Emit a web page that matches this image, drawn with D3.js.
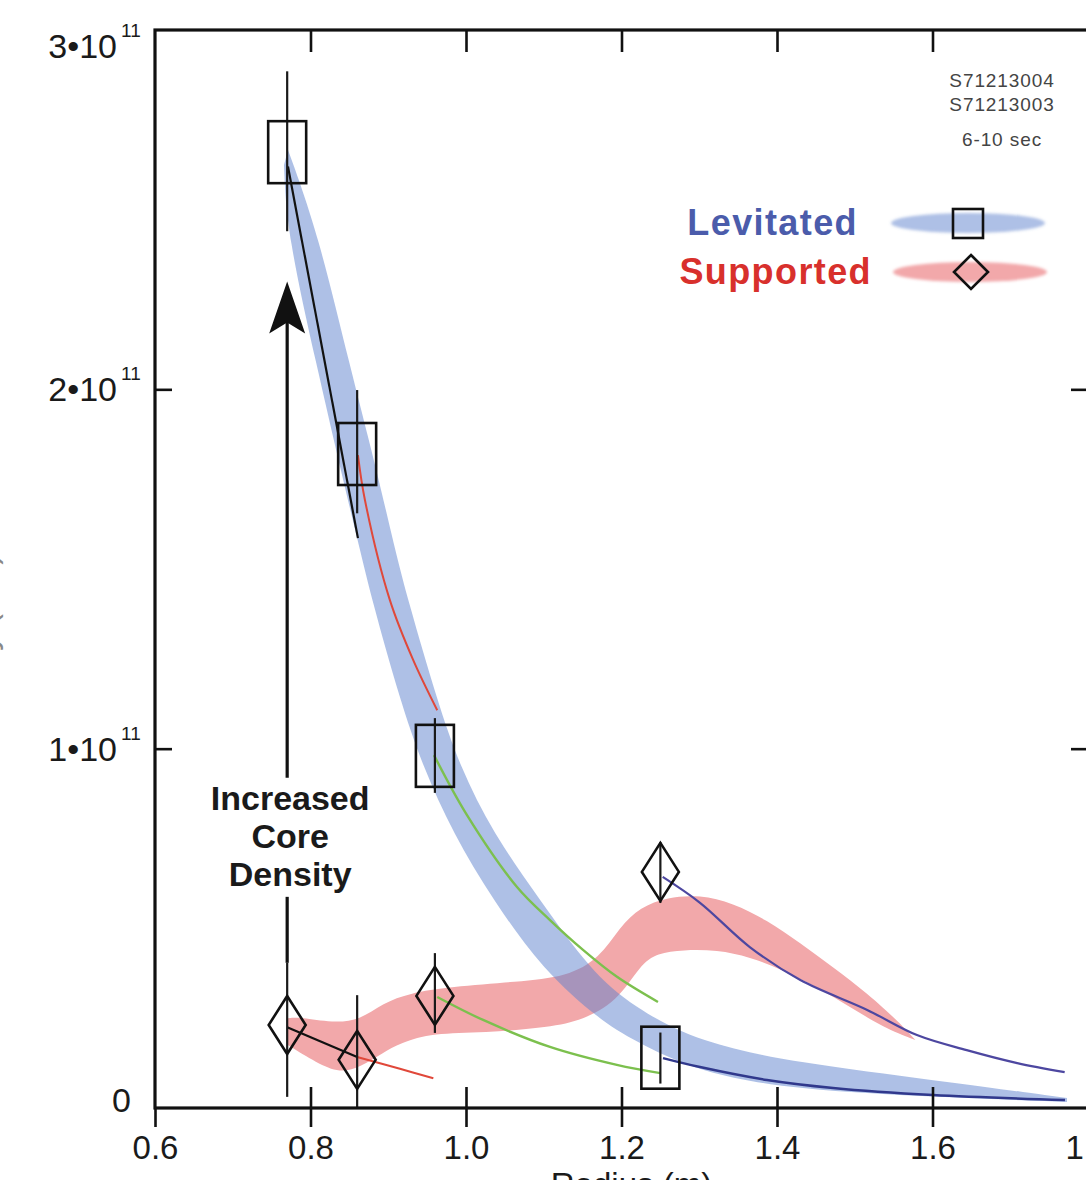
<!DOCTYPE html>
<html>
<head>
<meta charset="utf-8">
<script src="https://cdn.jsdelivr.net/npm/d3@7"></script>
<style>
  html, body { margin: 0; padding: 0; background: #ffffff; }
  svg { display: block; font-family: "Liberation Sans", Arial, Helvetica, sans-serif; }
</style>
</head>
<body>
<script>
// ---- axis ticks ----
const xTicks = [0.6, 0.8, 1.0, 1.2, 1.4, 1.6, 1.8];
const yTicks = [0, 1e11, 2e11, 3e11];
const yTickMantissa = ["0", "1•10", "2•10", "3•10"];
const yTickExponent = ["", "11", "11", "11"];

// ---- measured points (radius in m, density in m^-3) ----
const radius = [0.77, 0.86, 0.96, 1.25];
const levDensity = [2.66e11, 1.82e11, 0.98e11, 0.14e11];
const levErrLow  = [2.44e11, 1.655e11, 0.877e11, 0.068e11];
const levErrHigh = [2.885e11, 1.998e11, 1.085e11, 0.21e11];
const supDensity = [0.231e11, 0.134e11, 0.312e11, 0.657e11];
const supErrLow  = [0.031e11, 0.0, 0.209e11, 0.571e11];
const supErrHigh = [0.404e11, 0.314e11, 0.431e11, 0.740e11];

// ---- uncertainty bands: [radius, density/1e11] along each edge ----
const levBandUpper = [[0.7711,2.666],[0.8096,2.435],[0.8508,2.062],[0.8842,1.784],[0.9087,1.553],[0.9254,1.414],[0.9627,1.135],[0.9923,0.949],[1.0347,0.765],[1.0952,0.579],[1.1595,0.384],[1.2148,0.281],[1.3010,0.181],[1.4296,0.125],[1.6006,0.078],[1.7730,0.028]];
const levBandLower = [[0.7659,2.624],[0.7698,2.435],[0.8084,2.062],[0.8379,1.784],[0.8637,1.553],[0.8791,1.414],[0.9151,1.135],[0.9447,0.949],[0.9833,0.765],[1.0347,0.579],[1.0990,0.384],[1.1723,0.245],[1.2148,0.189],[1.3010,0.097],[1.4296,0.050],[1.6006,0.031],[1.7730,0.017]];
const supBandUpper = [[0.771,0.250],[0.786,0.253],[0.829,0.237],[0.864,0.245],[0.893,0.292],[0.928,0.320],[0.979,0.337],[1.066,0.351],[1.130,0.365],[1.172,0.417],[1.198,0.504],[1.224,0.559],[1.259,0.587],[1.301,0.593],[1.343,0.571],[1.387,0.523],[1.430,0.459],[1.472,0.392],[1.516,0.320],[1.558,0.237],[1.578,0.189]];
const supBandLower = [[0.771,0.175],[0.808,0.125],[0.838,0.097],[0.864,0.114],[0.893,0.153],[0.915,0.181],[0.958,0.209],[1.022,0.209],[1.108,0.225],[1.150,0.245],[1.194,0.295],[1.224,0.398],[1.246,0.431],[1.279,0.440],[1.323,0.440],[1.365,0.420],[1.408,0.384],[1.451,0.337],[1.494,0.281],[1.536,0.225],[1.578,0.189]];

// ---- piecewise fits between measured radii: [radius, density/1e11] ----
const levFitA = [[0.771,2.62],[0.861,1.586]];
const levFitB = [[0.861,1.817],[0.870,1.692],[0.902,1.414],[0.932,1.247],[0.963,1.107]];
const levFitC = [[0.9588,0.982],[1.0013,0.815],[1.0656,0.615],[1.1080,0.523],[1.1505,0.440],[1.1942,0.365],[1.2469,0.295]];
const levFitD = [[1.2534,0.139],[1.301,0.114],[1.3871,0.078],[1.472,0.0557],[1.6006,0.036],[1.7704,0.0223]];
const supFitA = [[0.770,0.225],[0.860,0.142]];
const supFitB = [[0.860,0.142],[0.915,0.109],[0.958,0.083]];
const supFitC = [[0.963,0.309],[1.022,0.245],[1.108,0.170],[1.194,0.120],[1.250,0.097]];
const supFitD = [[1.253,0.643],[1.301,0.571],[1.365,0.448],[1.430,0.356],[1.516,0.273],[1.580,0.203],[1.644,0.161],[1.709,0.125],[1.770,0.100]];

// ---- annotation ----
const noteLines = ["Increased", "Core", "Density"];
const arrowRadius = 0.77;
const arrowBase = 0.404e11;
const arrowTip = 2.30e11;
const noteMidDensity = 0.724e11;

const shotNotes = ["S71213004", "S71213003", "6-10 sec"];
const legendNames = ["Levitated", "Supported"];

// ---- layout ----
const W = 1086, H = 1180;
const plotLeft = 155, plotTop = 30, plotRight = 1088, plotBottom = 1108;

const x = d3.scaleLinear().domain([0.6, 1.8]).range([plotLeft, plotRight]);
const y = d3.scaleLinear().domain([0, 3e11]).range([plotBottom, plotTop]);
const yU = v => y(v * 1e11);

const svg = d3.select("body").append("svg").attr("width", W).attr("height", H);

const defs = svg.append("defs");
defs.append("filter").attr("id", "soft").attr("x", "-10%").attr("y", "-60%").attr("width", "120%").attr("height", "220%")
  .append("feGaussianBlur").attr("stdDeviation", 1.8);
defs.append("filter").attr("id", "edge")
  .append("feGaussianBlur").attr("stdDeviation", 0.6);

// ---- bands ----
const edgeLine = d3.line().x(d => x(d[0])).y(d => yU(d[1])).curve(d3.curveBasis);
function bandPath(upper, lower) {
  const a = edgeLine(upper);
  const b = edgeLine(lower.slice().reverse());
  return a + "L" + b.slice(1) + "Z";
}
const bands = svg.append("g");
bands.append("path").attr("d", bandPath(supBandUpper, supBandLower))
  .attr("fill", "#f2a8aa").attr("filter", "url(#edge)");
bands.append("path").attr("d", bandPath(levBandUpper, levBandLower))
  .attr("fill", "#5b81cd").attr("fill-opacity", 0.5).attr("filter", "url(#edge)");

// ---- fit lines ----
const fitLine = d3.line().x(d => x(d[0])).y(d => yU(d[1])).curve(d3.curveCatmullRom.alpha(0.5));
const fits = [
  [levFitA, "#111111", 2.2],
  [levFitB, "#e0483a", 2],
  [levFitC, "#7cc04e", 2.4],
  [levFitD, "#30388c", 2.4],
  [supFitA, "#111111", 2.2],
  [supFitB, "#e0483a", 2],
  [supFitC, "#7cc04e", 2.4],
  [supFitD, "#4d47a0", 2.2]
];
svg.append("g").selectAll("path").data(fits).join("path")
  .attr("d", d => fitLine(d[0]))
  .attr("fill", "none").attr("stroke", d => d[1]).attr("stroke-width", d => d[2]);

// ---- error bars ----
const errG = svg.append("g").attr("stroke", "#1a1a1a").attr("stroke-width", 2.2);
errG.selectAll("line.lev").data(radius).join("line").attr("class", "lev")
  .attr("x1", d => x(d)).attr("x2", d => x(d))
  .attr("y1", (d, i) => y(levErrLow[i])).attr("y2", (d, i) => y(levErrHigh[i]));
errG.selectAll("line.sup").data(radius).join("line").attr("class", "sup")
  .attr("x1", d => x(d)).attr("x2", d => x(d))
  .attr("y1", (d, i) => y(supErrLow[i])).attr("y2", (d, i) => y(supErrHigh[i]));

// ---- markers ----
const sqW = 38, sqH = 62, dmW = 37, dmH = 58;
svg.append("g").selectAll("rect").data(radius).join("rect")
  .attr("x", d => x(d) - sqW / 2).attr("y", (d, i) => y(levDensity[i]) - sqH / 2)
  .attr("width", sqW).attr("height", sqH)
  .attr("fill", "none").attr("stroke", "#111").attr("stroke-width", 2.6);
svg.append("g").selectAll("path").data(radius).join("path")
  .attr("d", (d, i) => {
    const cx = x(d), cy = y(supDensity[i]);
    return `M${cx},${cy - dmH / 2}L${cx + dmW / 2},${cy}L${cx},${cy + dmH / 2}L${cx - dmW / 2},${cy}Z`;
  })
  .attr("fill", "none").attr("stroke", "#111").attr("stroke-width", 2.6).attr("stroke-linejoin", "miter");

// ---- frame and axes ----
const axisFont = 33;
const gx = svg.append("g").attr("transform", `translate(0,${plotBottom})`)
  .call(d3.axisBottom(x).tickValues(xTicks).tickFormat(d3.format(".1f")).tickSize(19).tickPadding(9));
gx.select(".domain").remove();
gx.selectAll(".tick line").attr("stroke", "#111").attr("stroke-width", 2.6);
gx.selectAll(".tick text").attr("font-size", axisFont).attr("fill", "#1a1a1a")
  .attr("font-family", "'Liberation Sans', Arial, sans-serif");

const gxIn = svg.append("g").attr("transform", `translate(0,${plotBottom})`)
  .call(d3.axisTop(x).tickValues(xTicks.slice(1, -1)).tickFormat("").tickSize(21));
gxIn.select(".domain").remove();
gxIn.selectAll(".tick line").attr("stroke", "#111").attr("stroke-width", 2.6);

const gxTop = svg.append("g").attr("transform", `translate(0,${plotTop})`)
  .call(d3.axisBottom(x).tickValues(xTicks.slice(1, -1)).tickFormat("").tickSize(22));
gxTop.select(".domain").remove();
gxTop.selectAll(".tick line").attr("stroke", "#111").attr("stroke-width", 2.6);

const gyL = svg.append("g").attr("transform", `translate(${plotLeft},0)`)
  .call(d3.axisRight(y).tickValues(yTicks.slice(1, -1)).tickFormat("").tickSize(17));
gyL.select(".domain").remove();
gyL.selectAll(".tick line").attr("stroke", "#111").attr("stroke-width", 2.6);

const gyR = svg.append("g").attr("transform", `translate(${plotRight},0)`)
  .call(d3.axisLeft(y).tickValues(yTicks.slice(1, -1)).tickFormat("").tickSize(17));
gyR.select(".domain").remove();
gyR.selectAll(".tick line").attr("stroke", "#111").attr("stroke-width", 2.6);

svg.append("rect").attr("x", plotLeft).attr("y", plotTop)
  .attr("width", plotRight - plotLeft).attr("height", plotBottom - plotTop)
  .attr("fill", "none").attr("stroke", "#111").attr("stroke-width", 3.2);

// y tick labels with superscript exponent
const yLab = svg.append("g").attr("fill", "#1a1a1a");
yTicks.forEach((v, i) => {
  const base = Math.min(Math.max(y(v) + 12, plotTop + 28), plotBottom + 4);
  if (yTickExponent[i]) {
    yLab.append("text").attr("x", 117).attr("y", base).attr("text-anchor", "end")
      .attr("font-size", 34).text(yTickMantissa[i]);
    yLab.append("text").attr("x", 121).attr("y", base - 21).attr("text-anchor", "start")
      .attr("font-size", 19).text(yTickExponent[i]);
  } else {
    yLab.append("text").attr("x", 131).attr("y", base).attr("text-anchor", "end")
      .attr("font-size", 34).text(yTickMantissa[i]);
  }
});

// axis titles
svg.append("text").attr("x", (plotLeft + plotRight) / 2 + 10).attr("y", 1196)
  .attr("text-anchor", "middle").attr("font-size", 33).attr("fill", "#1a1a1a").text("Radius (m)");
svg.append("text").attr("transform", `translate(-4,${(plotTop + plotBottom) / 2 + 80}) rotate(-90)`)
  .attr("text-anchor", "middle").attr("font-size", 33).attr("fill", "#888").text("Density (m⁻³)");

// ---- annotation arrow and note ----
const ax = x(arrowRadius);
const midY = y(noteMidDensity);
const arrowG = svg.append("g").attr("stroke", "#111").attr("stroke-width", 3.2);
arrowG.append("line").attr("x1", ax).attr("x2", ax).attr("y1", y(arrowBase)).attr("y2", midY + 49);
arrowG.append("line").attr("x1", ax).attr("x2", ax).attr("y1", midY - 70).attr("y2", y(arrowTip) + 38);
const tipY = y(arrowTip);
svg.append("path")
  .attr("d", `M${ax},${tipY}L${ax + 18},${tipY + 52}L${ax},${tipY + 41}L${ax - 18},${tipY + 52}Z`)
  .attr("fill", "#111");
svg.append("g").selectAll("text").data(noteLines).join("text")
  .attr("x", ax + 3).attr("y", (d, i) => midY + (i - 1) * 38)
  .attr("text-anchor", "middle").attr("font-size", 34).attr("font-weight", "bold")
  .attr("fill", "#1a1a1a").text(d => d);

// ---- shot notes ----
svg.append("g").selectAll("text").data(shotNotes).join("text")
  .attr("x", 1002).attr("y", (d, i) => [87, 111, 146][i])
  .attr("text-anchor", "middle").attr("font-size", 19).attr("letter-spacing", 0.9)
  .attr("fill", "#444").text(d => d);

// ---- legend ----
const legColors = ["#4b5cab", "#d8302c"];
const legBand = ["#5b81cd", "#f2a8aa"];
const legY = [223, 272];
const legG = svg.append("g");
legendNames.forEach((name, i) => {
  legG.append("text").attr("x", i === 0 ? 858 : 872).attr("y", legY[i] + 12)
    .attr("text-anchor", "end").attr("font-size", 36).attr("font-weight", "bold")
    .attr("letter-spacing", 1.4).attr("fill", legColors[i]).text(name);
  legG.append("ellipse").attr("cx", 968 + i * 2).attr("cy", legY[i]).attr("rx", 77).attr("ry", 10)
    .attr("fill", legBand[i]).attr("fill-opacity", i === 0 ? 0.5 : 1).attr("filter", "url(#soft)");
});
legG.append("rect").attr("x", 953).attr("y", legY[0] - 14).attr("width", 30).attr("height", 29)
  .attr("fill", "none").attr("stroke", "#111").attr("stroke-width", 2.6);
legG.append("path")
  .attr("d", `M971,${legY[1] - 17}L988,${legY[1]}L971,${legY[1] + 17}L954,${legY[1]}Z`)
  .attr("fill", "none").attr("stroke", "#111").attr("stroke-width", 2.6);
</script>
</body>
</html>
